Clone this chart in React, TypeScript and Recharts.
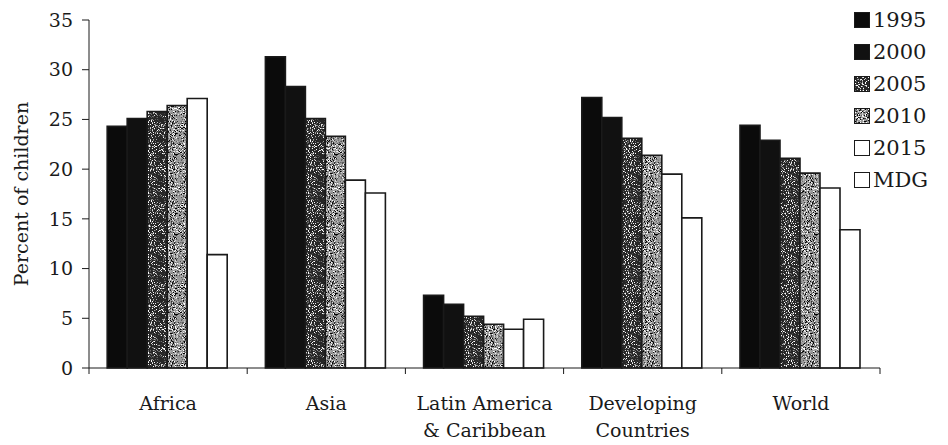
import React from "react"
import { Bar, BarChart, Legend, XAxis, YAxis } from "recharts"

// underweight children by region, with the MDG target for 2015
const categories = ["Africa", "Asia", "Latin America\n& Caribbean", "Developing\nCountries", "World"]
const v1995 = [24.3, 31.3, 7.3, 27.2, 24.4]
const v2000 = [25.1, 28.3, 6.4, 25.2, 22.9]
const v2005 = [25.8, 25.1, 5.2, 23.1, 21.1]
const v2010 = [26.4, 23.3, 4.4, 21.4, 19.6]
const v2015 = [27.1, 18.9, 3.9, 19.5, 18.1]
const vMdg = [11.4, 17.6, 4.9, 15.1, 13.9]
const yTicks = [0, 5, 10, 15, 20, 25, 30, 35]

const series = [
  { key: "y1995", label: "1995", fill: "#0b0b0b" },
  { key: "y2000", label: "2000", fill: "#111111" },
  { key: "y2005", label: "2005", fill: "url(#stippleDark)" },
  { key: "y2010", label: "2010", fill: "url(#stippleLight)" },
  { key: "y2015", label: "2015", fill: "#ffffff" },
  { key: "mdg", label: "MDG", fill: "#ffffff" },
]

const data = categories.map((name, i) => ({
  name,
  y1995: v1995[i],
  y2000: v2000[i],
  y2005: v2005[i],
  y2010: v2010[i],
  y2015: v2015[i],
  mdg: vMdg[i],
}))

const WIDTH = 948
const HEIGHT = 445
const MARGIN = { top: 20, right: 68, bottom: 17, left: 0 }
const Y_AXIS_W = 89
const PLOT_W = WIDTH - MARGIN.left - MARGIN.right - Y_AXIS_W
const X_TICK_SIZE = 6
const INK = "#1a1a1a"
const FONT = "DejaVu Serif"

function Patterns() {
  return (
    <svg width={0} height={0} style={{ position: "absolute" }}>
      <defs>
        <filter id="whiteSpecks" x="0" y="0" width="100%" height="100%">
          <feTurbulence type="fractalNoise" baseFrequency="0.95" numOctaves={2} seed={4} />
          <feColorMatrix type="matrix" values="0 0 0 0 1  0 0 0 0 1  0 0 0 0 1  7 0 0 0 -3.8" />
        </filter>
        <filter id="blackSpecks" x="0" y="0" width="100%" height="100%">
          <feTurbulence type="fractalNoise" baseFrequency="0.95" numOctaves={2} seed={9} />
          <feColorMatrix type="matrix" values="0 0 0 0 0  0 0 0 0 0  0 0 0 0 0  7 0 0 0 -3.6" />
        </filter>
        <pattern id="stippleDark" width={80} height={80} patternUnits="userSpaceOnUse">
          <rect width={80} height={80} fill="#262626" />
          <rect width={80} height={80} filter="url(#whiteSpecks)" />
        </pattern>
        <pattern id="stippleLight" width={80} height={80} patternUnits="userSpaceOnUse">
          <rect width={80} height={80} fill="#9a9a9a" />
          <rect width={80} height={80} filter="url(#blackSpecks)" />
          <rect width={80} height={80} filter="url(#whiteSpecks)" />
        </pattern>
      </defs>
    </svg>
  )
}

// category labels, with ticks drawn on the band edges instead of the centres
function CategoryTick(props: any) {
  const { x, y, payload, index } = props
  const half = PLOT_W / categories.length / 2
  const axisY = y - X_TICK_SIZE
  const lines = String(payload.value).split("\n")
  return (
    <g>
      <line x1={x - half} x2={x - half} y1={axisY} y2={axisY + 6} stroke={INK} />
      {index === categories.length - 1 && (
        <line x1={x + half} x2={x + half} y1={axisY} y2={axisY + 6} stroke={INK} />
      )}
      <text x={x} y={axisY + 42} textAnchor="middle" fill={INK} fontSize={19} fontFamily={FONT}>
        {lines.map((line, i) => (
          <tspan key={i} x={x} dy={i === 0 ? 0 : 27}>
            {line}
          </tspan>
        ))}
      </text>
    </g>
  )
}

function LegendList() {
  return (
    <div style={{ fontFamily: FONT, fontSize: 21, color: INK }}>
      {series.map((s) => (
        <div key={s.key} style={{ display: "flex", alignItems: "center", height: 32 }}>
          <svg width={16} height={16} style={{ marginRight: 3 }}>
            <rect x={0.5} y={0.5} width={15} height={15} fill={s.fill} stroke={INK} strokeWidth={1} />
          </svg>
          <span>{s.label}</span>
        </div>
      ))}
    </div>
  )
}

export default function App() {
  return (
    <div style={{ position: "absolute", left: 0, top: 0, width: WIDTH, height: HEIGHT, background: "#fff" }}>
      <Patterns />
      <BarChart
        width={WIDTH}
        height={HEIGHT}
        data={data}
        margin={MARGIN}
        barCategoryGap="11.5%"
        barGap={0}
      >
        <XAxis
          dataKey="name"
          height={60}
          axisLine={{ stroke: INK }}
          tickLine={false}
          tickSize={X_TICK_SIZE}
          tickMargin={0}
          interval={0}
          tick={<CategoryTick />}
        />
        <YAxis
          width={Y_AXIS_W}
          domain={[0, 35]}
          ticks={yTicks}
          interval={0}
          axisLine={{ stroke: INK }}
          tickLine={{ stroke: INK }}
          tickSize={7}
          tickMargin={9}
          tick={{ fill: INK, fontSize: 19, fontFamily: FONT }}
          label={{
            value: "Percent of children",
            angle: -90,
            position: "insideLeft",
            offset: 21,
            style: { textAnchor: "middle", fill: INK, fontSize: 19, fontFamily: FONT },
          }}
        />
        <Legend
          layout="vertical"
          align="center"
          verticalAlign="middle"
          wrapperStyle={{ left: 854, top: 4, width: 94 }}
          content={() => <LegendList />}
        />
        {series.map((s) => (
          <Bar
            key={s.key}
            dataKey={s.key}
            name={s.label}
            fill={s.fill}
            stroke={INK}
            strokeWidth={1.6}
            isAnimationActive={false}
          />
        ))}
      </BarChart>
    </div>
  )
}
